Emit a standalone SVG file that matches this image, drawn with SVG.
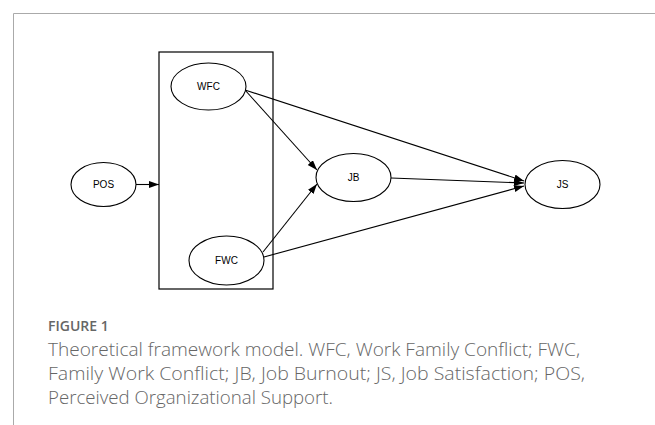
<svg xmlns="http://www.w3.org/2000/svg" width="655" height="425" viewBox="0 0 655 425">
<style>
.node ellipse{fill:#fff;stroke:#000;stroke-width:1.1}
.node text{font-family:"Liberation Sans",Arial,sans-serif;font-size:10px;fill:#000;text-anchor:middle}
.edges line{stroke:#000;stroke-width:1.1;marker-end:url(#ah)}
.cap{font-family:"Open Sans","Noto Sans",sans-serif;fill:#666}
</style>
<defs>
<marker id="ah" markerUnits="userSpaceOnUse" markerWidth="12" markerHeight="10" refX="10" refY="3.5" orient="auto">
<path d="M0,0 L10,3.5 L0,7 Z" fill="#000"/>
</marker>
</defs>
<rect width="655" height="425" fill="#fff"/>
<path d="M13.5,425 V13.5 H655" fill="none" stroke="#aaa" stroke-width="1"/>
<rect id="group" x="159" y="52" width="114" height="237" fill="none" stroke="#000" stroke-width="1.2"/>
<g class="edges">
<line x1="136" y1="184.5" x2="159" y2="184.5"/>
<line x1="245" y1="90" x2="317" y2="170"/>
<line x1="245" y1="90" x2="524" y2="181"/>
<line x1="391" y1="178" x2="524" y2="183"/>
<line x1="263" y1="252" x2="317" y2="184"/>
<line x1="264" y1="257" x2="524" y2="186"/>
</g>
<g id="POS" class="node"><ellipse cx="103.5" cy="184.5" rx="32.5" ry="22"/><text x="103.5" y="188">POS</text></g>
<g id="WFC" class="node"><ellipse cx="208.5" cy="86.5" rx="37.5" ry="23.5"/><text x="208.5" y="89.5">WFC</text></g>
<g id="FWC" class="node"><ellipse cx="226.5" cy="260.5" rx="37.5" ry="24.5"/><text x="226.5" y="264">FWC</text></g>
<g id="JB" class="node"><ellipse cx="353.5" cy="177.5" rx="37.5" ry="24"/><text x="353.5" y="181">JB</text></g>
<g id="JS" class="node"><ellipse cx="562.5" cy="184.5" rx="37.5" ry="24"/><text x="562.5" y="188">JS</text></g>
<text class="cap" x="48" y="331" font-size="14" font-weight="600" fill="#777">FIGURE 1</text>
<text class="cap" x="48" y="355.5" font-size="17.5" font-weight="300" textLength="532" lengthAdjust="spacingAndGlyphs">Theoretical framework model. WFC, Work Family Conflict; FWC,</text>
<text class="cap" x="48" y="380" font-size="17.5" font-weight="300" textLength="537" lengthAdjust="spacingAndGlyphs">Family Work Conflict; JB, Job Burnout; JS, Job Satisfaction; POS,</text>
<text class="cap" x="48" y="404" font-size="17.5" font-weight="300" textLength="285" lengthAdjust="spacingAndGlyphs">Perceived Organizational Support.</text>
</svg>
